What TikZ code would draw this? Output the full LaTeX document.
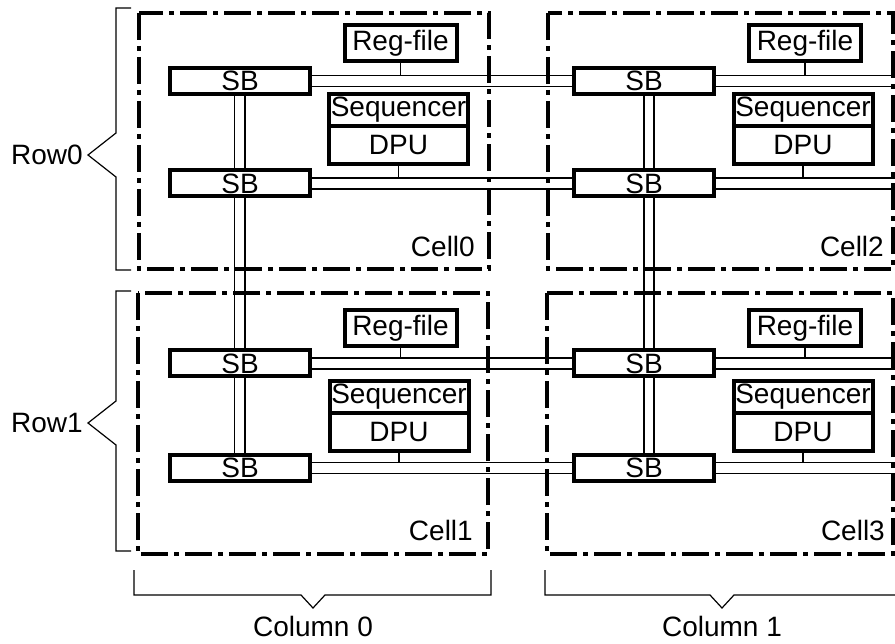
\documentclass[tikz,border=0pt]{standalone}
\usepackage{fontspec}
\setmainfont{Liberation Sans}
\usetikzlibrary{calc}
\begin{document}
\begin{tikzpicture}[x=1pt,y=-1pt,
  font=\fontsize{28}{31}\selectfont,
  thickbox/.style={draw, rectangle, line width=4pt, inner sep=0pt},
  sbbox/.style={thickbox, minimum width=140pt, minimum height=26pt},
  regbox/.style={thickbox, minimum width=112pt, minimum height=36pt},
  seqbox/.style={thickbox, minimum width=139pt, minimum height=32pt},
  dpubox/.style={thickbox, minimum width=139pt, minimum height=38pt},
  cellframe/.style={line width=4.5pt, dash pattern=on 27pt off 6pt on 5pt off 6pt},
  wire/.style={line width=1.2pt},
  bracketline/.style={line width=1.2pt},
  lbl/.style={inner sep=0pt}]
\useasboundingbox (0,0) rectangle (895,644);

% cell frames
\draw[cellframe] (139,13) rectangle (489,269);
\draw[cellframe] (548,13) rectangle (893,269);
\draw[cellframe] (138,293) rectangle (488,554);
\draw[cellframe] (547,293) rectangle (893,554);

% cell labels
\node[lbl, anchor=base east] (c0) at (475,257) {Cell0};
\node[lbl, anchor=base east] (c2) at (884,257) {Cell2};
\node[lbl, anchor=base east] (c1) at (473,540) {Cell1};
\node[lbl, anchor=base east] (c3) at (885,540) {Cell3};

% switch boxes
\node[sbbox] (sbA0) at (240,81) {SB};
\node[sbbox] (sbB0) at (240,183.5) {SB};
\node[sbbox] (sbA1) at (240,363.5) {SB};
\node[sbbox] (sbB1) at (240,468) {SB};
\node[sbbox] (sbA2) at (644,81) {SB};
\node[sbbox] (sbB2) at (644,183.5) {SB};
\node[sbbox] (sbA3) at (644,363.5) {SB};
\node[sbbox] (sbB3) at (644,468) {SB};

% reg-files
\node[regbox] (rg0) at (400.5,43.5) {Reg-file};
\node[regbox] (rg2) at (805,43.5) {Reg-file};
\node[regbox] (rg1) at (400.5,328.5) {Reg-file};
\node[regbox] (rg3) at (805,328.5) {Reg-file};

% sequencer / DPU
\node[seqbox] (sq0) at (398.5,110) {Sequencer};
\node[dpubox] (dp0) at (398.5,145) {DPU};
\node[seqbox] (sq2) at (803,110) {Sequencer};
\node[dpubox] (dp2) at (803,145) {DPU};
\node[seqbox] (sq1) at (399,397) {Sequencer};
\node[dpubox] (dp1) at (399,432) {DPU};
\node[seqbox] (sq3) at (803,397) {Sequencer};
\node[dpubox] (dp3) at (803,432) {DPU};

% right edge coordinates
\coordinate (eA0) at (895,81);
\coordinate (eB0) at (895,183.5);
\coordinate (eA1) at (895,363.5);
\coordinate (eB1) at (895,468);

% horizontal double buses
\foreach \a/\b/\e in {sbA0/sbA2/eA0, sbB0/sbB2/eB0, sbA1/sbA3/eA1, sbB1/sbB3/eB1}{
  \draw[wire] ([yshift=5.5pt]\a.east) -- ([yshift=5.5pt]\b.west);
  \draw[wire] ([yshift=-5.5pt]\a.east) -- ([yshift=-5.5pt]\b.west);
  \draw[wire] ([yshift=5.5pt]\b.east) -- ([yshift=5.5pt]\e);
  \draw[wire] ([yshift=-5.5pt]\b.east) -- ([yshift=-5.5pt]\e);
}

% reg-file and DPU taps
\foreach \r/\s in {rg0/sbA0, rg2/sbA2, rg1/sbA1, rg3/sbA3}{
  \draw[wire] (\r.south) -- ($(\r.south |- \s.east)+(0,-5.5)$);
}
\foreach \d/\s in {dp0/sbB0, dp2/sbB2, dp1/sbB1, dp3/sbB3}{
  \draw[wire] (\d.south) -- ($(\d.south |- \s.east)+(0,-5.5)$);
}

% vertical double buses
\foreach \u/\l in {sbA0/sbB0, sbB0/sbA1, sbA1/sbB1}{
  \draw[wire] ([xshift=-5.5pt]\u.south) -- ([xshift=-5.5pt]\l.north);
  \draw[wire] ([xshift=5pt]\u.south) -- ([xshift=5pt]\l.north);
}
\foreach \u/\l in {sbA2/sbB2, sbB2/sbA3, sbA3/sbB3}{
  \draw[wire] ([xshift=0pt]\u.south) -- ([xshift=0pt]\l.north);
  \draw[wire] ([xshift=10pt]\u.south) -- ([xshift=10pt]\l.north);
}

% row brackets
\coordinate (r0tip) at (88,155);
\coordinate (r1tip) at (88,423);
\draw[bracketline] (131,8) -- (116,8) -- (116,133) -- (r0tip) -- (116,177) -- (116,270) -- (131,270);
\draw[bracketline] (131,291) -- (116,291) -- (116,401) -- (r1tip) -- (116,445) -- (116,551) -- (131,551);
\node[lbl, anchor=east] (row0) at ([xshift=-5pt]r0tip) {Row0};
\node[lbl, anchor=east] (row1) at ([xshift=-5pt]r1tip) {Row1};

% column brackets
\coordinate (k0tip) at (313,608);
\coordinate (k1tip) at (722,608);
\draw[bracketline] (134,570) -- (134,595) -- (301,595) -- (k0tip) -- (325,595) -- (491,595) -- (491,570);
\draw[bracketline] (545,570) -- (545,595) -- (710,595) -- (k1tip) -- (734,595) -- (900,595);
\node[lbl] (col0) at ($(k0tip)+(0,18)$) {Column 0};
\node[lbl] (col1) at ($(k1tip)+(0,18)$) {Column 1};
\end{tikzpicture}
\end{document}
